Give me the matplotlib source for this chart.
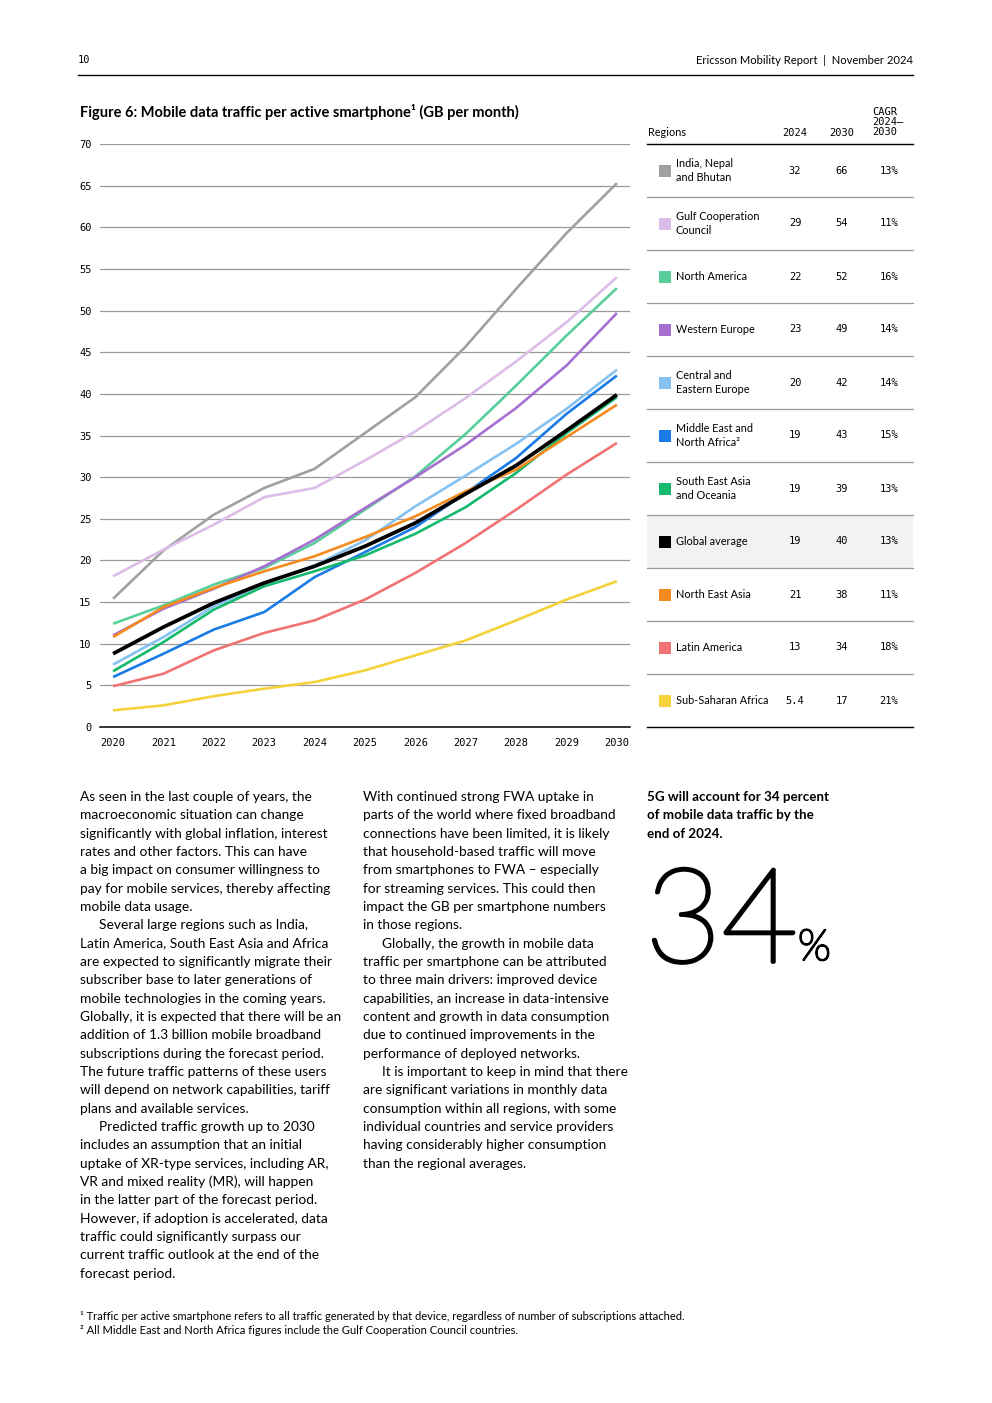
import matplotlib
matplotlib.use("Agg")
import matplotlib.pyplot as plt
from matplotlib.patches import Rectangle
import matplotlib.patheffects as pe

W, H = 992, 1403

years = [2020, 2021, 2022, 2023, 2024, 2025, 2026, 2027, 2028, 2029, 2030]

india = [15.4, 21.2, 25.5, 28.7, 31.0, 35.3, 39.6, 45.7, 52.6, 59.3, 65.3]
gcc = [18.1, 21.3, 24.3, 27.6, 28.7, 32.0, 35.5, 39.5, 43.9, 48.6, 54.0]
north_america = [12.4, 14.6, 17.1, 19.1, 22.1, 26.1, 30.1, 35.2, 41.0, 47.0, 52.7]
western_europe = [11.0, 14.2, 16.6, 19.3, 22.5, 26.3, 30.0, 33.9, 38.3, 43.4, 49.7]
cee = [7.5, 10.8, 14.5, 17.2, 19.4, 22.4, 26.5, 30.2, 34.0, 38.2, 42.9]
mena = [6.0, 8.8, 11.7, 13.8, 18.0, 21.0, 24.0, 28.1, 32.3, 37.6, 42.2]
sea = [6.7, 10.2, 14.1, 16.9, 18.7, 20.6, 23.2, 26.4, 30.5, 35.3, 39.6]
global_avg = [8.8, 12.0, 14.9, 17.3, 19.3, 21.7, 24.5, 28.0, 31.4, 35.6, 39.9]
north_east_asia = [10.8, 14.4, 16.7, 18.7, 20.5, 22.8, 25.3, 28.3, 30.9, 34.8, 38.7]
latin_america = [4.9, 6.4, 9.2, 11.3, 12.8, 15.3, 18.5, 22.1, 26.1, 30.3, 34.1]
ssa = [2.0, 2.6, 3.7, 4.6, 5.4, 6.8, 8.6, 10.4, 12.8, 15.3, 17.5]

region_labels = ["India, Nepal\nand Bhutan", "Gulf Cooperation\nCouncil", "North America",
                 "Western Europe", "Central and\nEastern Europe", "Middle East and\nNorth Africa\u00b2",
                 "South East Asia\nand Oceania", "Global average", "North East Asia",
                 "Latin America", "Sub-Saharan Africa"]
val_2024 = ["32", "29", "22", "23", "20", "19", "19", "19", "21", "13", "5.4"]
val_2030 = ["66", "54", "52", "49", "42", "43", "39", "40", "38", "34", "17"]
cagr = ["13%", "11%", "16%", "14%", "14%", "15%", "13%", "13%", "11%", "18%", "21%"]

series = [india, gcc, north_america, western_europe, cee, mena, sea, global_avg,
          north_east_asia, latin_america, ssa]
colors = ["#a0a0a0", "#dbbde8", "#58cf9a", "#a66fd0", "#85c2f2", "#1a7be6", "#14b96c",
          "#000000", "#f58a1f", "#f07272", "#f4d23a"]

y_ticks = list(range(0, 75, 5))

SANS = ["Lato", "DejaVu Sans"]
MONO = ["DejaVu Sans Mono"]

fig = plt.figure(figsize=(W / 100, H / 100), dpi=100)
fig.patch.set_facecolor("white")

# Overlay axes in pixel coordinates for page elements
pg = fig.add_axes([0, 0, 1, 1])
pg.set_xlim(0, W)
pg.set_ylim(H, 0)
pg.axis("off")

# Header
pg.text(78, 60, "10", fontsize=7.5, family=MONO, va="center", ha="left")
pg.text(913, 60, "Ericsson Mobility Report  |  November 2024", fontsize=8.1, family=SANS,
        va="center", ha="right")
pg.plot([78, 913], [75, 75], color="black", lw=1.0)

# Title
pg.text(80, 112, "Figure 6: Mobile data traffic per active smartphone\u00b9 (GB per month)",
        fontsize=10.5, family=SANS, fontweight="bold", va="center", ha="left")

# Chart
ax = fig.add_axes([100 / W, 1 - 727 / H, 530 / W, 583 / H])
for i, (s, c) in enumerate(zip(series, colors)):
    lw = 2.7 if c == "#000000" else 1.9
    z = 5 if c == "#000000" else 3
    ax.plot(years, s, color=c, lw=lw, zorder=z, solid_capstyle="butt")
ax.set_xlim(2019.74, 2030.26)
ax.set_ylim(0, 70)
ax.set_yticks(y_ticks)
ax.set_xticks(years)
ax.set_xticklabels([str(y) for y in years], family=MONO, fontsize=7.5)
ax.set_yticklabels([str(t) for t in y_ticks], family=MONO, fontsize=7.5)
ax.tick_params(length=0, axis="y", pad=6)
ax.tick_params(length=0, axis="x", pad=8)
ax.grid(axis="y", color="#9a9a9a", lw=0.9, zorder=1)
ax.set_axisbelow(True)
for sp in ["top", "right", "left"]:
    ax.spines[sp].set_visible(False)
ax.spines["bottom"].set_color("black")
ax.spines["bottom"].set_linewidth(1.1)
ax.spines["bottom"].set_zorder(6)

# Table
tx0, tx1 = 647, 913
pg.text(648, 133, "Regions", fontsize=7.8, family=SANS, va="center", ha="left")
pg.text(795, 133, "2024", fontsize=7.5, family=MONO, va="center", ha="center")
pg.text(842, 133, "2030", fontsize=7.5, family=MONO, va="center", ha="center")
pg.text(872, 122, "CAGR\n2024\u2013\n2030", fontsize=7.5, family=MONO, va="center", ha="left",
        linespacing=1.05)
pg.plot([tx0, tx1], [144, 144], color="black", lw=1.0)
row_h = 53
top = 144
for i, lab in enumerate(region_labels):
    y0 = top + i * row_h
    yc = y0 + row_h / 2
    if lab == "Global average":
        pg.add_patch(Rectangle((tx0, y0), tx1 - tx0, row_h, facecolor="#f2f2f2",
                               edgecolor="none", zorder=0))
    pg.add_patch(Rectangle((659, yc - 6), 12, 12, facecolor=colors[i], edgecolor="none"))
    pg.text(676, yc, lab, fontsize=7.8, family=SANS, va="center", ha="left", linespacing=1.35)
    pg.text(795, yc, val_2024[i], fontsize=7.5, family=MONO, va="center", ha="center")
    pg.text(842, yc, val_2030[i], fontsize=7.5, family=MONO, va="center", ha="center")
    pg.text(889, yc, cagr[i], fontsize=7.5, family=MONO, va="center", ha="center")
    if i < len(region_labels) - 1:
        pg.plot([tx0, tx1], [y0 + row_h, y0 + row_h], color="#9a9a9a", lw=0.9)
pg.plot([tx0, tx1], [top + len(region_labels) * row_h] * 2, color="black", lw=1.0)

# Body text
col1 = [
    "As seen in the last couple of years, the",
    "macroeconomic situation can change",
    "significantly with global inflation, interest",
    "rates and other factors. This can have",
    "a big impact on consumer willingness to",
    "pay for mobile services, thereby affecting",
    "mobile data usage.",
    "\tSeveral large regions such as India,",
    "Latin America, South East Asia and Africa",
    "are expected to significantly migrate their",
    "subscriber base to later generations of",
    "mobile technologies in the coming years.",
    "Globally, it is expected that there will be an",
    "addition of 1.3 billion mobile broadband",
    "subscriptions during the forecast period.",
    "The future traffic patterns of these users",
    "will depend on network capabilities, tariff",
    "plans and available services.",
    "\tPredicted traffic growth up to 2030",
    "includes an assumption that an initial",
    "uptake of XR-type services, including AR,",
    "VR and mixed reality (MR), will happen",
    "in the latter part of the forecast period.",
    "However, if adoption is accelerated, data",
    "traffic could significantly surpass our",
    "current traffic outlook at the end of the",
    "forecast period.",
]
col2 = [
    "With continued strong FWA uptake in",
    "parts of the world where fixed broadband",
    "connections have been limited, it is likely",
    "that household-based traffic will move",
    "from smartphones to FWA \u2013 especially",
    "for streaming services. This could then",
    "impact the GB per smartphone numbers",
    "in those regions.",
    "\tGlobally, the growth in mobile data",
    "traffic per smartphone can be attributed",
    "to three main drivers: improved device",
    "capabilities, an increase in data-intensive",
    "content and growth in data consumption",
    "due to continued improvements in the",
    "performance of deployed networks.",
    "\tIt is important to keep in mind that there",
    "are significant variations in monthly data",
    "consumption within all regions, with some",
    "individual countries and service providers",
    "having considerably higher consumption",
    "than the regional averages.",
]
lh = 18.33
for x0, lines in [(80, col1), (363, col2)]:
    for k, ln in enumerate(lines):
        xx = x0
        if ln.startswith("\t"):
            ln = ln[1:]
            xx = x0 + 19
        pg.text(xx, 797 + k * lh, ln, fontsize=9.95, family=SANS, va="center", ha="left")

col3 = ["5G will account for 34 percent", "of mobile data traffic by the", "end of 2024."]
for k, ln in enumerate(col3):
    pg.text(647, 797 + k * lh, ln, fontsize=9.6, family=SANS, fontweight="bold",
            va="center", ha="left")

pg.text(645, 962, "34", fontsize=95, family=SANS, fontweight="light", va="baseline", ha="left",
        path_effects=[pe.withStroke(linewidth=2.6, foreground="black")])
pg.text(798, 960, "%", fontsize=31, family=SANS, fontweight="light", va="baseline", ha="left",
        path_effects=[pe.withStroke(linewidth=1.5, foreground="black")])

# Footnotes
pg.text(80, 1316, "\u00b9 Traffic per active smartphone refers to all traffic generated by that device, "
        "regardless of number of subscriptions attached.", fontsize=8.0, family=SANS,
        va="center", ha="left")
pg.text(80, 1331, "\u00b2 All Middle East and North Africa figures include the Gulf Cooperation "
        "Council countries.", fontsize=8.0, family=SANS, va="center", ha="left")

fig.savefig("out.png", dpi=100, facecolor="white")
